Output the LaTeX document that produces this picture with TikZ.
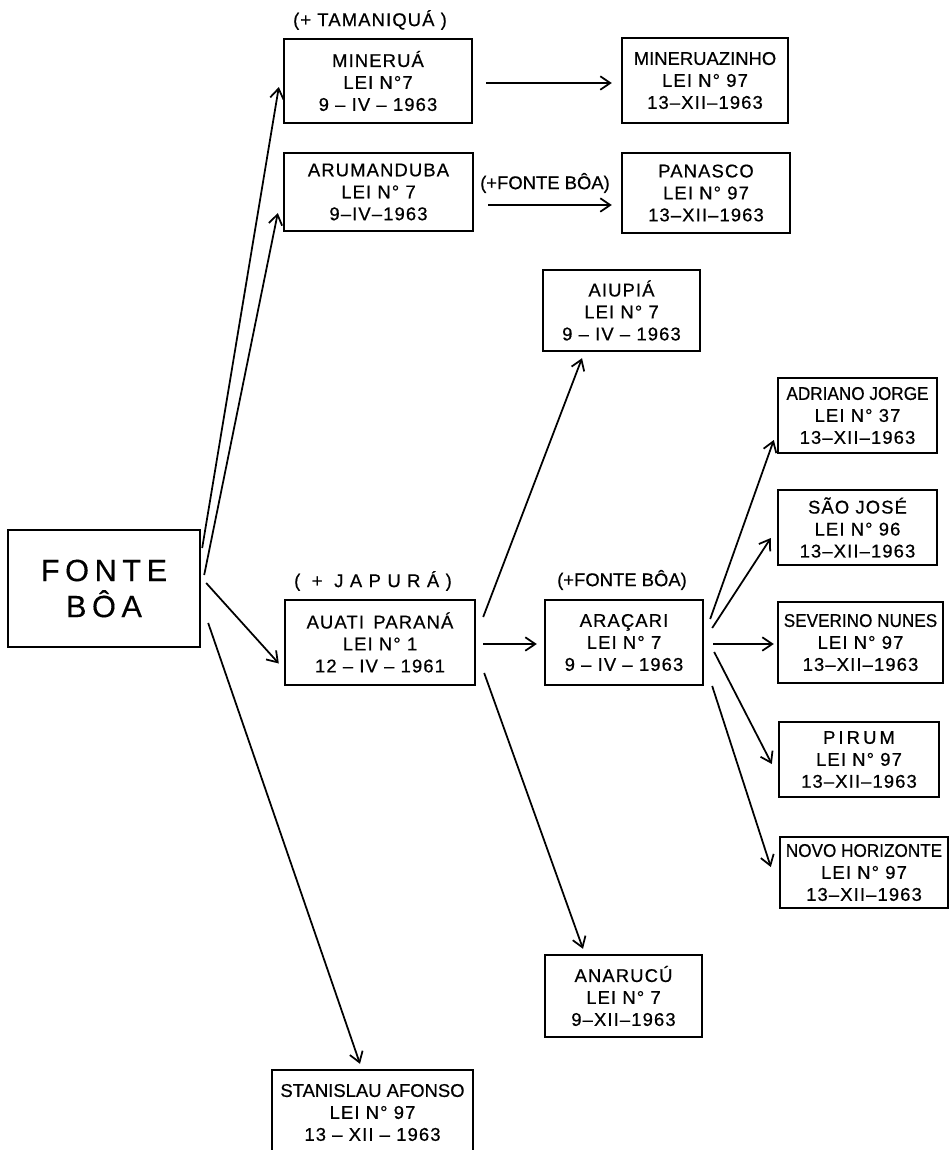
\documentclass[tikz,border=0pt]{standalone}
\usepackage{fontspec}
\setmainfont{Liberation Sans}
\newfontfamily\lfA[LetterSpace=6,FakeBold=0.6]{Liberation Sans}
\newfontfamily\lfB[FakeStretch=0.93,FakeBold=0.6]{Liberation Sans}
\newfontfamily\lfC[FakeBold=0.6]{Liberation Sans}
\newfontfamily\lfW[LetterSpace=35,FakeBold=0.6]{Liberation Sans}
\newfontfamily\lfBig[LetterSpace=18,FakeBold=0.3]{Liberation Sans}
\usetikzlibrary{arrows.meta}
\begin{document}
\begin{tikzpicture}[x=0.02cm,y=-0.02cm,
  box/.style 2 args={draw, line width=1.35pt, rectangle, inner sep=0pt,
    minimum width=#1*0.02cm, minimum height=#2*0.02cm, align=center,
    font=\lfA\fontsize{10.5}{12.5}\selectfont},
  lbl/.style={inner sep=0pt, font=\lfA\fontsize{10.5}{12.5}\selectfont},
  conn/.style={line width=1pt, -{Straight Barb[length=2mm,width=2.7mm]}}
]
\useasboundingbox (0,0) rectangle (950,1150);
\clip (0,0) rectangle (950,1150);

\node[box={192}{117}, font=\lfBig\fontsize{17.5}{20.5}\selectfont] (fb) at (104,588.5) {FONTE\\BÔA};

\node[box={188}{84}] (min) at (378,81) {MINERUÁ\\LEI N°7\\9 – IV – 1963};
\node[box={189}{78}] (aru) at (378.5,192) {ARUMANDUBA\\LEI N° 7\\9–IV–1963};
\node[box={166}{85}] (mz) at (705,80.5) {{\lfC MINERUAZINHO}\\LEI N° 97\\13–XII–1963};
\node[box={168}{80}] (pan) at (706,193) {PANASCO\\LEI N° 97\\13–XII–1963};
\node[box={157}{81}] (aiu) at (621.5,310.5) {AIUPIÁ\\LEI N° 7\\9 – IV – 1963};
\node[box={159}{75}] (adr) at (857.5,415.5) {{\lfB ADRIANO JORGE}\\LEI N° 37\\13–XII–1963};
\node[box={159}{75}] (sj) at (857.5,527.5) {SÃO JOSÉ\\LEI N° 96\\13–XII–1963};
\node[box={190}{85}] (aua) at (380,642.5) {AUATI\, PARANÁ\\LEI N° 1\\12 – IV – 1961};
\node[box={158}{85}] (ara) at (624,642.5) {ARAÇARI\\LEI N° 7\\9 – IV – 1963};
\node[box={165}{81}] (sev) at (860.5,642.5) {{\lfB SEVERINO NUNES}\\LEI N° 97\\13–XII–1963};
\node[box={160}{75}] (pir) at (859,759.5) {P\,I\,R\,U\,M\\LEI N° 97\\13–XII–1963};
\node[box={168}{71}] (nov) at (864,872.5) {{\lfB NOVO HORIZONTE}\\LEI N° 97\\13–XII–1963};
\node[box={157}{82}] (ana) at (623.5,996) {ANARUCÚ\\LEI N° 7\\9–XII–1963};
\node[box={201}{85}] (sta) at (372.5,1112.5) {{\lfC STANISLAU AFONSO}\\LEI N° 97\\13 – XII – 1963};

\node[lbl] (l1) at (370,20) {(+ TAMANIQUÁ )};
\node[lbl, font=\lfC\fontsize{10.5}{12.5}\selectfont] (l2) at (545,183) {(+FONTE BÔA)};
\node[lbl, font=\lfW\fontsize{10.5}{12.5}\selectfont] (l3) at (373,581) {( + JAPURÁ)};
\node[lbl, font=\lfC\fontsize{10.5}{12.5}\selectfont] (l4) at (622,580) {(+FONTE BÔA)};

\draw[conn] ([shift={(1,-40.5)}]fb.east) -- ([shift={(-4,6)}]min.west);
\draw[conn] ([shift={(3,-13.5)}]fb.east) -- ([shift={(-5,21)}]aru.west);
\draw[conn] ([shift={(5,-5.5)}]fb.east) -- ([shift={(-5,21)}]aua.west);
\draw[conn] ([shift={(7,34.5)}]fb.east) -- ([shift={(-12.5,-5)}]sta.north);
\draw[conn] ([shift={(13,2)}]min.east) -- ([shift={(-9,2.5)}]mz.west);
\draw[conn] ([shift={(14,13)}]aru.east) -- ([shift={(-9,12)}]pan.west);
\draw[conn] ([shift={(7,-25.5)}]aua.east) -- ([shift={(-39.5,6)}]aiu.south);
\draw[conn] ([shift={(7,1.5)}]aua.east) -- ([shift={(-7,1.5)}]ara.west);
\draw[conn] ([shift={(8,30.5)}]aua.east) -- ([shift={(-40.5,-5)}]ana.north);
\draw[conn] ([shift={(6,-23.5)}]ara.east) -- ([shift={(-3,24.5)}]adr.west);
\draw[conn] ([shift={(8,-14.5)}]ara.east) -- ([shift={(-6,10.5)}]sj.west);
\draw[conn] ([shift={(9,1.5)}]ara.east) -- ([shift={(-3,1.5)}]sev.west);
\draw[conn] ([shift={(10,9.5)}]ara.east) -- ([shift={(-6,4.5)}]pir.west);
\draw[conn] ([shift={(8,43.5)}]ara.east) -- ([shift={(-8,-5.5)}]nov.west);
\end{tikzpicture}
\end{document}
